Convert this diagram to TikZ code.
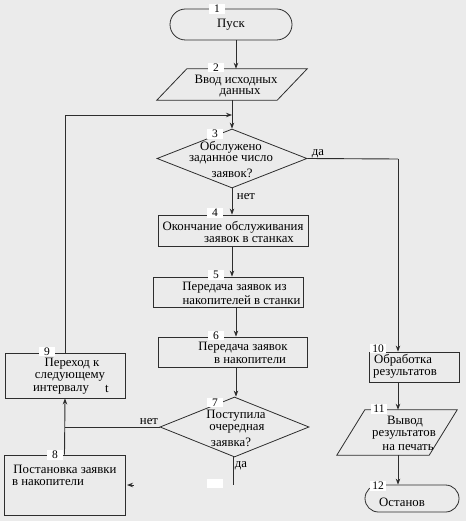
\documentclass[tikz,border=0pt]{standalone}
\usepackage{fontspec}
\setmainfont{Liberation Serif}
\usetikzlibrary{shapes.geometric,shapes.misc,arrows.meta}
\definecolor{bg}{RGB}{235,235,235}
\definecolor{ln}{RGB}{45,45,45}
\begin{document}
\begin{tikzpicture}[x=1pt,y=-1pt,
  shp/.style={draw=ln, line width=0.8pt, inner sep=0pt},
  boxs/.style={shp, rectangle},
  term/.style={shp, rounded rectangle},
  dia/.style={shp, diamond},
  frame/.style={rectangle, inner sep=0pt},
  paraline/.style={draw=ln, line width=0.8pt},
  txt/.style={inner sep=0pt, font=\fontsize{12.8}{13}\selectfont, text=black},
  num/.style={fill=white, inner sep=0pt, minimum width=16pt, minimum height=9.5pt, font=\fontsize{11.5}{9}\selectfont},
  con/.style={draw=ln, line width=0.9pt},
  arr/.style={con, -{Stealth[length=6pt,width=4.5pt]}}
]
\fill[bg] (0,0) rectangle (466,521);
\useasboundingbox (0,0) rectangle (466,521);

% shapes
\node[term, minimum width=122pt, minimum height=31pt] (t1) at (231,24.5) {};
\node[frame, minimum width=120pt, minimum height=31pt] (p2) at (247,84.5) {};
\draw[paraline] (p2.north west) -- (p2.north east) -- ([xshift=-30pt]p2.south east) -- ([xshift=-30pt]p2.south west) -- cycle;
\node[dia, minimum width=150pt, minimum height=59pt] (d3) at (232,158.5) {};
\node[boxs, minimum width=150pt, minimum height=31pt] (b4) at (233,230.5) {};
\node[boxs, minimum width=150pt, minimum height=30pt] (b5) at (228.5,292) {};
\node[boxs, minimum width=149pt, minimum height=30pt] (b6) at (232.5,352) {};
\node[dia, minimum width=149pt, minimum height=60pt] (d7) at (234.5,427) {};
\node[boxs, minimum width=120pt, minimum height=45pt] (b9) at (65,375.5) {};
\node[boxs, minimum width=121pt, minimum height=60pt] (b8) at (64.5,485) {};
\node[boxs, minimum width=90pt, minimum height=30pt] (b10) at (414,367) {};
\node[frame, minimum width=92pt, minimum height=45pt] (p11) at (411,432.5) {};
\draw[paraline] (p11.north west) -- (p11.north east) -- ([xshift=-28pt]p11.south east) -- ([xshift=-28pt]p11.south west) -- cycle;
\node[term, minimum width=94pt, minimum height=27pt] (t12) at (412,498.5) {};

% connectors
\coordinate (c1) at (236,0);
\coordinate (c2) at (232,0);
\draw[arr] (t1.south -| c1) -- (p2.north -| c1);
\draw[arr] (p2.south -| c2) -- (d3.north -| c2);
\draw[arr] (d3.south -| c2) -- (b4.north -| c2);
\draw[arr] (b4.south -| c2) -- (b5.north -| c2);
\draw[arr] (b5.south -| c1) -- (b6.north -| c1);
\draw[arr] (b6.south -| c1) -- (d7.north -| c1);
\coordinate (fbj) at (232,115);
\draw[arr] (b9.north) |- (fbj);
\coordinate (r1) at (398,159);
\draw[con] (d3.east) -- (r1);
\draw[arr] (r1) -- (r1 |- b10.north);
\draw[arr] (r1 |- b10.south) -- (r1 |- p11.north);
\draw[arr] (r1 |- p11.south) -- (r1 |- t12.north);
\draw[con] (d7.west) -- (d7.west -| b9.south);
\draw[arr] (b8.north) -- (b9.south);
\coordinate (d7e) at (233,485);
\draw[con] (d7.south -| d7e) -- (d7e);
\coordinate (sa) at (133.5,485);
\draw[arr] (sa) -- (127,485);

% texts
\node[txt] (x1) at (231,25) {Пуск};
\node[txt] (x2a) at (236,80.5) {Ввод исходных};
\node[txt] (x2b) at (240,93) {данных};
\node[txt] (x3a) at (231,147) {Обслужено};
\node[txt] (x3b) at (231,160) {заданное число};
\node[txt] (x3c) at (232,173) {заявок?};
\node[txt] (x4a) at (233,227) {Окончание обслуживания};
\node[txt] (x4b) at (249,240) {заявок в станках};
\node[txt] (x5a) at (234.5,287.5) {Передача заявок из};
\node[txt] (x5b) at (241.5,300.5) {накопителей в станки};
\node[txt] (x6a) at (243,347.5) {Передача заявок};
\node[txt] (x6b) at (250,360.5) {в накопители};
\node[txt] (x7a) at (236,416) {Поступила};
\node[txt] (x7b) at (237,429) {очередная};
\node[txt] (x7c) at (231,442) {заявка?};
\node[txt] (x9a) at (72,364) {Переход к};
\node[txt] (x9b) at (70,377) {следующему};
\node[txt] (x9c) at (61,390) {интервалу};
\node[txt] (x9d) at (107,389) {t};
\node[txt] (x8a) at (65,469.5) {Постановка заявки};
\node[txt] (x8b) at (48,482.5) {в накопители};
\node[txt] (x10a) at (403,360.5) {Обработка};
\node[txt] (x10b) at (405,373.5) {результатов};
\node[txt] (x11a) at (405,422) {Вывод};
\node[txt] (x11b) at (404,435) {результатов};
\node[txt] (x11c) at (408,448) {на печать};
\node[txt] (x12) at (402,502) {Останов};
% branch labels
\node[txt] (ly3) at (318,154) {да};
\node[txt] (ln3) at (246,197) {нет};
\node[txt] (ln7) at (149,422) {нет};
\node[txt] (ly7) at (241,466) {да};

% number tags
\node[num] (n1) at (217,9) {1};
\node[num] (n2) at (216,67.5) {2};
\node[num] (n3) at (215,134) {3};
\node[num] (n4) at (215,213) {4};
\node[num] (n5) at (216,275) {5};
\node[num] (n6) at (216,335.5) {6};
\node[num] (n7) at (215,402.5) {7};
\node[num] (n8) at (55,455) {8};
\node[num] (n9) at (47,351.5) {9};
\node[num] (n10) at (378,348.5) {10};
\node[num] (n11) at (379,409) {11};
\node[num] (n12) at (378,486) {12};
\node[num] (nb) at (215,483.5) {};
\end{tikzpicture}
\end{document}
